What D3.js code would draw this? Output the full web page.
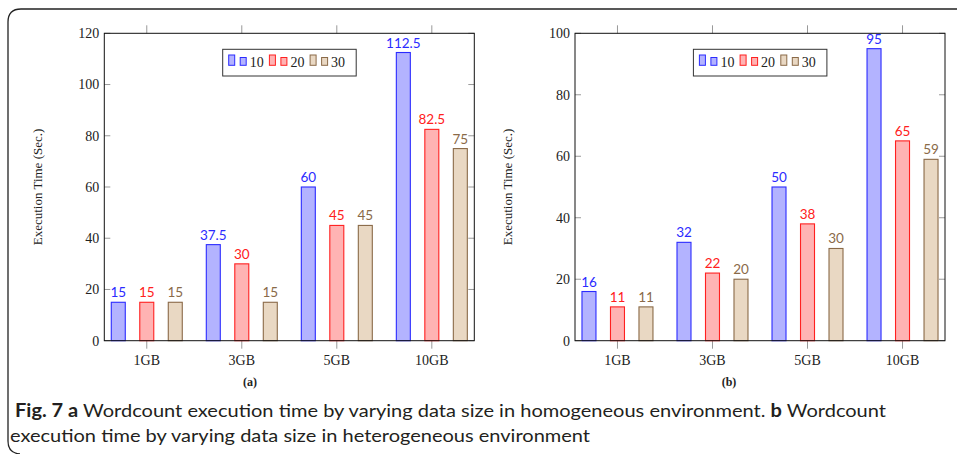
<!DOCTYPE html>
<html>
<head>
<meta charset="utf-8">
<script src="https://cdn.jsdelivr.net/npm/d3@7"></script>
<style>
  body { margin: 0; background: white; }
  svg { display: block; }
</style>
</head>
<body>
<div id="chart"></div>
<script>
const CATEGORIES = ["1GB", "3GB", "5GB", "10GB"];
const SERIES = ["10", "20", "30"];

// panel (a) homogeneous
const HOMO_10 = [15, 37.5, 60, 112.5];
const HOMO_20 = [15, 30, 45, 82.5];
const HOMO_30 = [15, 15, 45, 75];
const HOMO_TICKS = [0, 20, 40, 60, 80, 100, 120];

// panel (b) heterogeneous
const HETERO_10 = [16, 32, 50, 95];
const HETERO_20 = [11, 22, 38, 65];
const HETERO_30 = [11, 20, 30, 59];
const HETERO_TICKS = [0, 20, 40, 60, 80, 100];

var colors = {
  "10": {stroke: "#2b2bff", fill: "#b3b3ff", text: "#2b2bff"},
  "20": {stroke: "#ff2020", fill: "#ffb3b3", text: "#ff2020"},
  "30": {stroke: "#8a6a48", fill: "#e9d8c3", text: "#8a6a48"}
};

var serif = "'Liberation Serif', 'Times New Roman', serif";
var sans = "Lato, 'Noto Sans', sans-serif";

var svg = d3.select("#chart")
  .append("svg")
  .attr("width", 957)
  .attr("height", 454);

// figure frame (rounded left corners)
svg.append("path")
  .attr("d", "M957,9 L21,9 Q8,9 8,22 L8,441 Q8,453 20,454")
  .attr("fill", "none")
  .attr("stroke", "#222")
  .attr("stroke-width", 1.3);

function drawPanel(opts)
{
  var g = svg.append("g");
  var left = opts.left, right = opts.left + 370;
  var top = 33.3, bottom = 340.7;

  var x = d3.scalePoint()
    .domain(CATEGORIES)
    .range([left, right])
    .padding(0.447);

  var xSub = d3.scaleBand()
    .domain(SERIES)
    .range([-50, 50])
    .paddingInner(0.509)
    .paddingOuter(0.509);

  var y = d3.scaleLinear()
    .domain([0, opts.ymax])
    .range([bottom, top]);

  // y ticks (inside, both sides)
  g.append("g").selectAll("line")
    .data(opts.ticks)
    .enter()
    .append("line")
    .attr("x1", left).attr("x2", left + 6)
    .attr("y1", d => y(d)).attr("y2", d => y(d))
    .attr("stroke", "#999").attr("stroke-width", 1);

  g.append("g").selectAll("line")
    .data(opts.ticks)
    .enter()
    .append("line")
    .attr("x1", right - 6).attr("x2", right)
    .attr("y1", d => y(d)).attr("y2", d => y(d))
    .attr("stroke", "#999").attr("stroke-width", 1);

  g.append("g").selectAll("text")
    .data(opts.ticks)
    .enter()
    .append("text")
    .attr("x", left - 5)
    .attr("y", d => y(d) + 4.8)
    .attr("text-anchor", "end")
    .style("font-family", serif)
    .style("font-size", "14px")
    .attr("fill", "#222")
    .text(d => d);

  // x ticks (outside, top and bottom)
  g.append("g").selectAll("line")
    .data(CATEGORIES)
    .enter()
    .append("line")
    .attr("x1", d => x(d)).attr("x2", d => x(d))
    .attr("y1", top - 8).attr("y2", top)
    .attr("stroke", "#999").attr("stroke-width", 1);

  g.append("g").selectAll("line")
    .data(CATEGORIES)
    .enter()
    .append("line")
    .attr("x1", d => x(d)).attr("x2", d => x(d))
    .attr("y1", bottom).attr("y2", bottom + 8)
    .attr("stroke", "#999").attr("stroke-width", 1);

  g.append("g").selectAll("text")
    .data(CATEGORIES)
    .enter()
    .append("text")
    .attr("x", d => x(d))
    .attr("y", bottom + 24)
    .attr("text-anchor", "middle")
    .style("font-family", serif)
    .style("font-size", "14px")
    .attr("fill", "#222")
    .text(d => d);

  // bars
  SERIES.forEach(function(s, si) {
    var vals = opts.values[si];
    var c = colors[s];
    var bars = g.append("g");

    bars.selectAll("rect")
      .data(vals)
      .enter()
      .append("rect")
      .attr("x", (d, i) => x(CATEGORIES[i]) + xSub(s))
      .attr("y", d => y(d))
      .attr("width", xSub.bandwidth())
      .attr("height", d => bottom - y(d))
      .attr("fill", c.fill)
      .attr("stroke", c.stroke)
      .attr("stroke-width", 1.1);

    bars.selectAll("text")
      .data(vals)
      .enter()
      .append("text")
      .attr("x", (d, i) => x(CATEGORIES[i]) + xSub(s) + xSub.bandwidth() / 2)
      .attr("y", d => y(d) - 5)
      .attr("text-anchor", "middle")
      .style("font-family", sans)
      .style("font-size", "13.5px")
      .attr("fill", c.text)
      .text(d => d);
  });

  // plot frame
  g.append("rect")
    .attr("x", left).attr("y", top)
    .attr("width", right - left).attr("height", bottom - top)
    .attr("fill", "none")
    .attr("stroke", "#111")
    .attr("stroke-width", 1);

  // y axis label
  g.append("text")
    .attr("transform", "translate(" + opts.ylabelX + "," + ((top + bottom) / 2) + ") rotate(-90)")
    .attr("text-anchor", "middle")
    .style("font-family", serif)
    .style("font-size", "13px")
    .attr("fill", "#222")
    .text("Execution Time (Sec.)");

  // legend
  var lx = left + 118.4, ly = 49.3;
  var legend = g.append("g");
  legend.append("rect")
    .attr("x", lx).attr("y", ly)
    .attr("width", 133.5).attr("height", 26.7)
    .attr("fill", "white")
    .attr("stroke", "#333")
    .attr("stroke-width", 1);

  var items = legend.selectAll("g")
    .data(SERIES)
    .enter()
    .append("g")
    .attr("transform", (d, i) => "translate(" + (lx + 6 + i * 40.7) + ",0)");

  items.append("rect")
    .attr("x", 0).attr("y", 55)
    .attr("width", 6).attr("height", 10.3)
    .attr("fill", d => colors[d].fill)
    .attr("stroke", d => colors[d].stroke)
    .attr("stroke-width", 1);

  items.append("rect")
    .attr("x", 11.5).attr("y", 57.5)
    .attr("width", 6).attr("height", 7.8)
    .attr("fill", d => colors[d].fill)
    .attr("stroke", d => colors[d].stroke)
    .attr("stroke-width", 1);

  items.append("text")
    .attr("x", 21)
    .attr("y", 67)
    .style("font-family", serif)
    .style("font-size", "14px")
    .attr("fill", "#222")
    .text(d => d);

  // panel caption
  g.append("text")
    .attr("x", opts.subX)
    .attr("y", 386)
    .attr("text-anchor", "middle")
    .style("font-family", serif)
    .style("font-size", "12px")
    .style("font-weight", "bold")
    .attr("fill", "#222")
    .text(opts.sub);
}

drawPanel({
  left: 104.3, ymax: 120, ticks: HOMO_TICKS,
  values: [HOMO_10, HOMO_20, HOMO_30],
  ylabelX: 42, subX: 250, sub: "(a)"
});

drawPanel({
  left: 575, ymax: 100, ticks: HETERO_TICKS,
  values: [HETERO_10, HETERO_20, HETERO_30],
  ylabelX: 512, subX: 729, sub: "(b)"
});

// figure caption
var capFont = "Lato, 'Open Sans', sans-serif";
var line1 = svg.append("text")
  .attr("x", 15).attr("y", 417)
  .attr("textLength", 871)
  .attr("lengthAdjust", "spacingAndGlyphs")
  .style("font-family", capFont)
  .style("font-size", "18px")
  .attr("fill", "#231f20");
line1.append("tspan").style("font-weight", "bold").text("Fig. 7  a");
line1.append("tspan").text(" Wordcount execution time by varying data size in homogeneous environment. ");
line1.append("tspan").style("font-weight", "bold").text("b");
line1.append("tspan").text(" Wordcount");

svg.append("text")
  .attr("x", 10).attr("y", 442)
  .attr("textLength", 580)
  .attr("lengthAdjust", "spacingAndGlyphs")
  .style("font-family", capFont)
  .style("font-size", "18px")
  .attr("fill", "#231f20")
  .text("execution time by varying data size in heterogeneous environment");
</script>
</body>
</html>
